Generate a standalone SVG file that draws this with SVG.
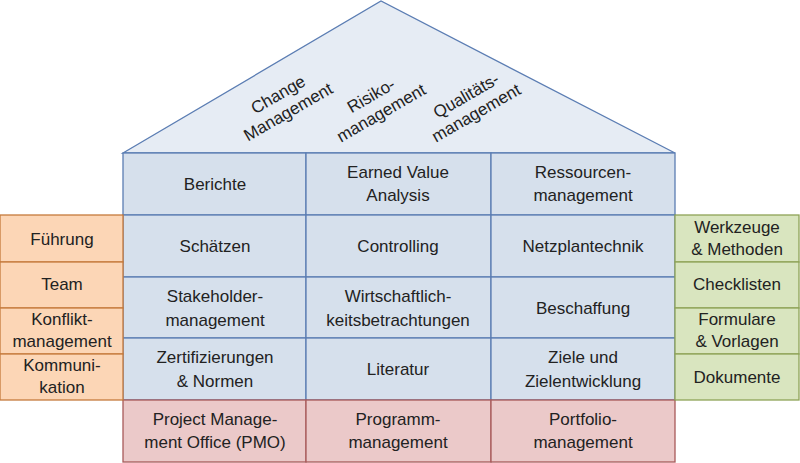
<svg xmlns="http://www.w3.org/2000/svg" width="800" height="463" viewBox="0 0 800 463">
<style>
text{font-family:"Liberation Sans",Arial,sans-serif;font-size:17px;fill:#222;text-anchor:middle}
.b{fill:#d6e0ec;stroke:#5b7db3;stroke-width:1.3}
.r{fill:#ebc9c9;stroke:#a85a5a;stroke-width:1.3}
.o{fill:#fcd6b6;stroke:#c57a3c;stroke-width:1.3}
.g{fill:#d9e5bf;stroke:#8ea356;stroke-width:1.3}
</style>
<rect width="800" height="463" fill="#fff"/>
<g id="roof">
<polygon points="123,153 381,1 675,153" fill="#e6ecf4" stroke="#5b7db3" stroke-width="1.3"/>
<g transform="translate(283,103) rotate(-30)"><text y="-4">Change</text><text y="16">Management</text></g>
<g transform="translate(376,104) rotate(-30)"><text y="-4">Risiko-</text><text y="16">management</text></g>
<g transform="translate(471,104) rotate(-30)"><text y="-4">Qualitäts-</text><text y="16">management</text></g>
</g>
<g id="main">
<rect class="b" x="123" y="153" width="183" height="62"/><text x="215" y="190">Berichte</text>
<rect class="b" x="306" y="153" width="185" height="62"/><text x="398" y="178">Earned Value</text><text x="398" y="201">Analysis</text>
<rect class="b" x="491" y="153" width="184" height="62"/><text x="583" y="178">Ressourcen-</text><text x="583" y="201">management</text>
<rect class="b" x="123" y="215" width="183" height="62"/><text x="215" y="252">Schätzen</text>
<rect class="b" x="306" y="215" width="185" height="62"/><text x="398" y="252">Controlling</text>
<rect class="b" x="491" y="215" width="184" height="62"/><text x="583" y="252">Netzplantechnik</text>
<rect class="b" x="123" y="277" width="183" height="61"/><text x="215" y="302">Stakeholder-</text><text x="215" y="326">management</text>
<rect class="b" x="306" y="277" width="185" height="61"/><text x="398" y="302">Wirtschaftlich-</text><text x="398" y="326">keitsbetrachtungen</text>
<rect class="b" x="491" y="277" width="184" height="61"/><text x="583" y="314">Beschaffung</text>
<rect class="b" x="123" y="338" width="183" height="62"/><text x="215" y="363">Zertifizierungen</text><text x="215" y="387">&amp; Normen</text>
<rect class="b" x="306" y="338" width="185" height="62"/><text x="398" y="375">Literatur</text>
<rect class="b" x="491" y="338" width="184" height="62"/><text x="583" y="363">Ziele und</text><text x="583" y="387">Zielentwicklung</text>
</g>
<g id="base">
<rect class="r" x="123" y="400" width="183" height="62"/><text x="215" y="425">Project Manage-</text><text x="215" y="448">ment Office (PMO)</text>
<rect class="r" x="306" y="400" width="185" height="62"/><text x="398" y="425">Programm-</text><text x="398" y="448">management</text>
<rect class="r" x="491" y="400" width="184" height="62"/><text x="583" y="425">Portfolio-</text><text x="583" y="448">management</text>
</g>
<g id="left">
<rect class="o" x="0" y="215" width="123" height="47"/><text x="62" y="245">Führung</text>
<rect class="o" x="0" y="262" width="123" height="46"/><text x="62" y="290">Team</text>
<rect class="o" x="0" y="308" width="123" height="46"/><text x="62" y="325">Konflikt-</text><text x="62" y="347">management</text>
<rect class="o" x="0" y="354" width="123" height="46"/><text x="62" y="371">Kommuni-</text><text x="62" y="393">kation</text>
</g>
<g id="right">
<rect class="g" x="675" y="215" width="124" height="47"/><text x="737" y="233">Werkzeuge</text><text x="737" y="255">&amp; Methoden</text>
<rect class="g" x="675" y="262" width="124" height="46"/><text x="737" y="290">Checklisten</text>
<rect class="g" x="675" y="308" width="124" height="46"/><text x="737" y="325">Formulare</text><text x="737" y="347">&amp; Vorlagen</text>
<rect class="g" x="675" y="354" width="124" height="46"/><text x="737" y="383">Dokumente</text>
</g>
<g id="connectors"/>
</svg>
